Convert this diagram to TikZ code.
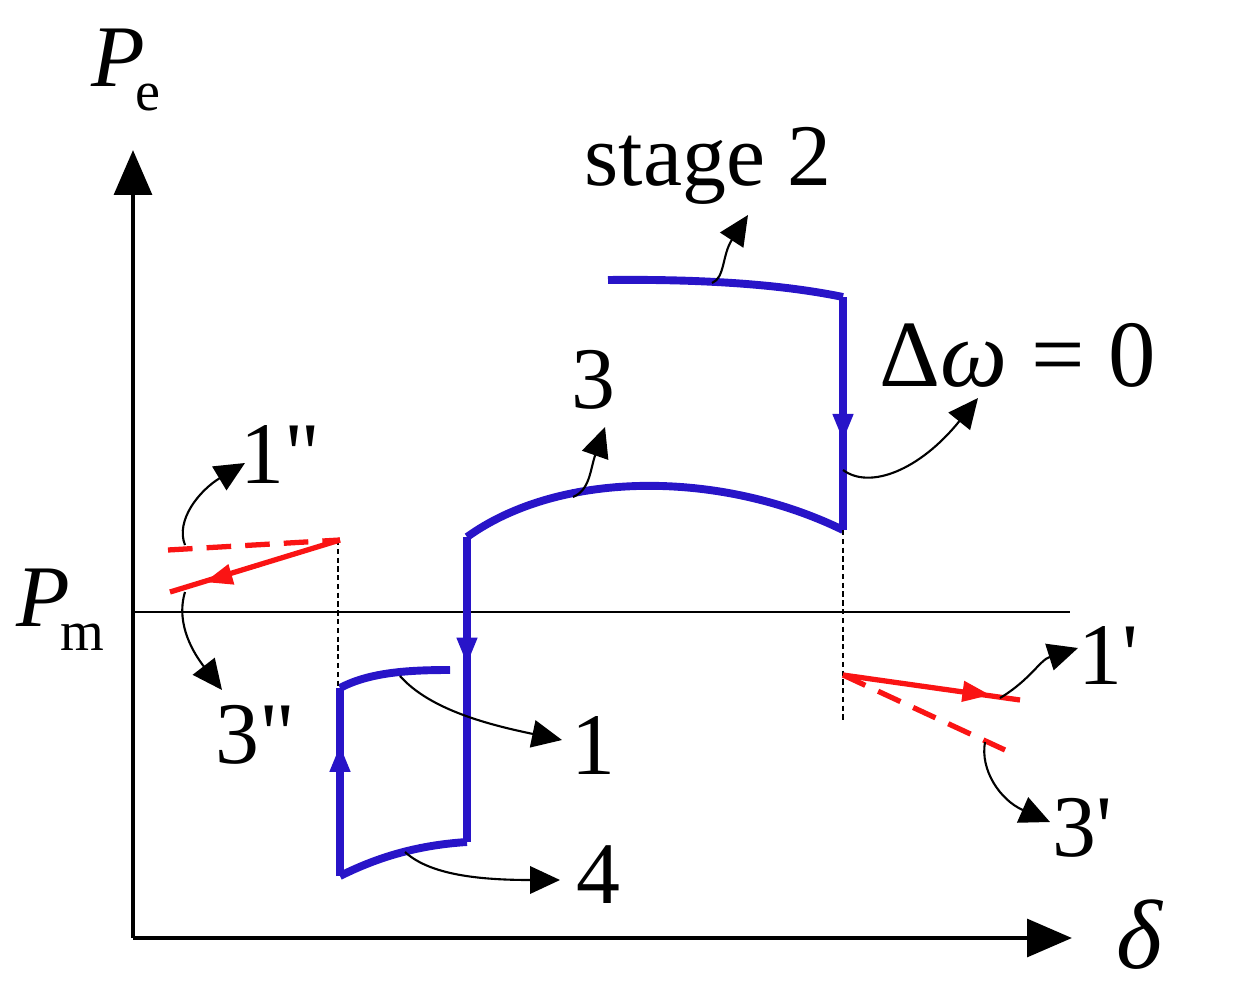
\documentclass[tikz,border=0pt]{standalone}
\usepackage{fontspec}
\setmainfont{Liberation Serif}[Ligatures=TeXOff]
\usetikzlibrary{arrows.meta,decorations.markings}
\definecolor{bl}{RGB}{40,20,200}
\definecolor{rd}{RGB}{250,20,20}
\begin{document}
\begin{tikzpicture}[x=0.02cm,y=-0.02cm,
 lbl/.style={font=\fontsize{50}{56}\selectfont,inner sep=0},
 ann/.style={line width=1.2pt,-{Triangle[length=0.6cm,width=0.55cm]}},
 bc/.style={bl,line width=4.5pt},
 mid/.style={postaction={decorate},decoration={markings,mark=at position #1 with {\arrow{Triangle[length=0.55cm,width=0.38cm]}}}},
 rs/.style={rd,line width=3pt},
 rdash/.style={rd,line width=3pt,dash pattern=on 14pt off 8pt}]
\useasboundingbox (0,0) rectangle (1244,993);
% axes
\coordinate (O) at (133,938);
\coordinate (Y) at (133,150);
\coordinate (X) at (1072,938);
\draw[line width=2.8pt,-{Triangle[length=0.9cm,width=0.75cm]}] (O) -- (Y);
\draw[line width=2.8pt,-{Triangle[length=0.9cm,width=0.75cm]}] (O) -- (X);
\coordinate (PmL) at (133,612); \coordinate (PmR) at (1070,612);
\draw[line width=1pt] (PmL) -- (PmR);
% blue path
\coordinate (a1) at (608,280); \coordinate (a2) at (843,297);
\coordinate (b1) at (843,530); \coordinate (b2) at (467,537);
\coordinate (c1) at (467,842); \coordinate (c2) at (340,876);
\coordinate (d1) at (340,688); \coordinate (d2) at (450,670);
\draw[bc,line cap=butt] (a1) .. controls (700,279) and (780,284) .. (a2);
\draw[bc,mid=0.62] (a2) -- (b1);
\draw[bc] (b1) .. controls (720,470) and (560,470) .. (b2);
\draw[bc,mid=0.42] (b2) -- (c1);
\draw[bc] (c1) .. controls (420,845) and (380,856) .. (c2);
\draw[bc,mid=0.7] (c2) -- (d1);
\draw[bc] (d1) .. controls (370,672) and (410,670) .. (d2);
% dashed guides
\coordinate (g1) at (338,540); \coordinate (g2) at (338,688);
\coordinate (g3) at (843,530); \coordinate (g4) at (843,720);
\draw[line width=0.8pt,dash pattern=on 3pt off 2pt] (g1) -- (g2);
\draw[line width=0.8pt,dash pattern=on 3pt off 2pt] (g3) -- (g4);
% red
\coordinate (r1) at (168,550); \coordinate (r0) at (340,540); \coordinate (r2) at (170,592);
\draw[rdash] (r1) -- (r0);
\draw[rs] (r0) -- (r2);
\draw[rd,line width=1pt,-{Triangle[length=0.55cm,width=0.42cm]}] (260,566) -- (205,582);
\coordinate (s0) at (843,675); \coordinate (s1) at (1020,700); \coordinate (s2) at (1005,750);
\draw[rs] (s0) -- (s1);
\draw[rd,line width=1pt,-{Triangle[length=0.55cm,width=0.42cm]}] (930,687) -- (990,695);
\draw[rdash] (s0) -- (s2);
% labels
\node[lbl] (Pe) at (118,58) {\textit{P}};
\node[lbl,font=\fontsize{32}{36}\selectfont] (Pes) at (148,98) {e};
\node[lbl] (Pm) at (43,598) {\textit{P}};
\node[lbl,font=\fontsize{32}{36}\selectfont] (Pms) at (82,637) {m};
\node[lbl] (st) at (708,166) {stage 2};
\node[lbl] (l3) at (593,380) {3};
\node[lbl,font=\fontsize{54}{60}\selectfont] (dw) at (1018,355) {Δ\textit{ω} = 0};
\node[lbl] (l1b) at (280,455) {1"};
\node[lbl] (l3b) at (255,735) {3"};
\node[lbl] (l1) at (593,745) {1};
\node[lbl] (l4) at (598,875) {4};
\node[lbl] (l1p) at (1108,655) {1'};
\node[lbl] (l3p) at (1082,828) {3'};
\node[lbl,font=\fontsize{56}{60}\selectfont] (dl) at (1140,935) {\textit{δ}};
% annotation arrows
\coordinate (t1) at (712,283); \coordinate (t1e) at (748,215);
\draw[ann] (t1) .. controls (725,278) and (722,255) .. (t1e);
\coordinate (t2) at (573,497); \coordinate (t2e) at (605,427);
\draw[ann] (t2) .. controls (590,490) and (590,470) .. (t2e);
\coordinate (t3) at (843,470); \coordinate (t3e) at (978,398);
\draw[ann] (t3) .. controls (870,490) and (920,470) .. (t3e);
\coordinate (t4) at (185,545); \coordinate (t4e) at (245,463);
\draw[ann] (t4) .. controls (175,520) and (200,490) .. (t4e);
\coordinate (t5) at (185,592); \coordinate (t5e) at (222,690);
\draw[ann] (t5) .. controls (175,625) and (195,655) .. (t5e);
\coordinate (t6) at (400,676); \coordinate (t6e) at (562,740);
\draw[ann] (t6) .. controls (430,710) and (490,725) .. (t6e);
\coordinate (t7) at (405,852); \coordinate (t7e) at (560,880);
\draw[ann] (t7) .. controls (430,875) and (480,880) .. (t7e);
\coordinate (t8) at (1000,698) ; \coordinate (t8e) at (1078,648);
\draw[ann] (t8) .. controls (1030,680) and (1040,660) .. (t8e);
\coordinate (t9) at (985,742); \coordinate (t9e) at (1050,822);
\draw[ann] (t9) .. controls (980,770) and (1000,800) .. (t9e);
\end{tikzpicture}
\end{document}
